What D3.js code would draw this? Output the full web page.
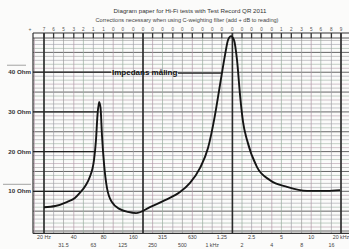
<!DOCTYPE html>
<html>
<head>
<meta charset="utf-8">
<script src="https://cdn.jsdelivr.net/npm/d3@7"></script>
<style>
  body { margin: 0; background: #fff; }
  svg { display: block; font-family: "Liberation Sans", Arial, sans-serif; }
</style>
</head>
<body>
<div id="chart"></div>
<script>
const width = 349;
const height = 249;

// impedance curve
const freqs = [20, 26, 34, 41, 46, 53, 58, 64, 67, 69.4, 72, 74.5, 77, 81, 86.6, 97, 117, 141, 170, 235,
  334, 473, 597, 754, 907, 1067, 1199, 1347, 1444, 1549, 1661, 1781, 1910, 2048, 2248, 2836, 3838,
  5698, 9076, 14452, 19558];
const ohms = [6.0, 6.3, 7.3, 8.3, 9.6, 11.6, 13.6, 17.9, 22.9, 29.2, 32.5, 31, 24.2, 16.6, 10.8, 7.3,
  5.5, 4.8, 4.5, 6.0, 7.8, 9.8, 12.1, 15.9, 20.9, 29.2, 36.8, 44.3, 48.1, 49.1, 48.1, 43.1, 34.3,
  27.5, 22.9, 16.1, 12.8, 11.1, 10.1, 10.1, 10.3];

// third octave grid of the paper and the C-weighting corrections printed on top
const thirdOctaves = [16, 20, 25, 31.5, 40, 50, 63, 80, 100, 125, 160, 200, 250, 315, 400, 500, 630,
  800, 1000, 1250, 1600, 2000, 2500, 3150, 4000, 5000, 6300, 8000, 10000, 12500, 16000, 20000];
const corrections = ['7', '6', '5', '3', '2', '1', '1', '0', '0', '0', '0', '0', '0', '0', '0', '0',
  '0', '0', '0', '0', '0', '0', '0', '0', '1', '2', '3', '5', '6', '8', '9', '12'];
const heavyLines = [20, 200, 1600, 20000];

const ohmLabels = [10, 20, 30, 40];
const freqRow1 = [[20, '20 Hz'], [40, '40'], [80, '80'], [160, '160'], [315, '315'], [630, '630'],
  [1250, '1.25'], [2500, '2.5'], [5000, '5'], [10000, '10'], [20000, '20 kHz']];
const freqRow2 = [[31.5, '31.5'], [63, '63'], [125, '125'], [250, '250'], [500, '500'], [1000, '1 kHz'],
  [2000, '2'], [4000, '4'], [8000, '8'], [16000, '16']];

const title = 'Diagram paper for Hi-Fi tests with Test Record QR 2011';
const subtitle = 'Corrections necessary when using C-weighting filter (add + dB to reading)';

const x = d3.scaleLog().domain([20, 20000]).range([44, 341]);
const y = d3.scaleLinear().domain([0, 49]).range([231, 36.5]);

const gridLeft = 33, gridRight = width, gridTop = 38, bandTop = 33, gridBottom = y(-0.6);

const svg = d3.select('#chart').append('svg')
  .attr('width', width)
  .attr('height', height);

svg.append('rect').attr('width', width).attr('height', height).attr('fill', '#fbfbfa');

// title lines
svg.append('text').attr('x', 190).attr('y', 13).attr('text-anchor', 'middle')
  .attr('font-size', 6.2).attr('fill', '#333').text(title);
svg.append('text').attr('x', 187).attr('y', 21.5).attr('text-anchor', 'middle')
  .attr('font-size', 5.6).attr('fill', '#444').text(subtitle);

// paper grid
const grid = svg.append('g');
const tints = ['#9c9c9c', '#b19aa8', '#9aae9f', '#a0a0a8'];

grid.selectAll('.h')
  .data(d3.range(0, 49))
  .join('line')
  .attr('x1', gridLeft).attr('x2', gridRight)
  .attr('y1', d => y(d)).attr('y2', d => y(d))
  .attr('stroke', (d, i) => d % 5 === 0 ? '#555' : tints[i % tints.length])
  .attr('stroke-width', d => d % 5 === 0 ? 0.9 : 0.6);

grid.selectAll('.v')
  .data(thirdOctaves)
  .join('line')
  .attr('x1', d => x(d)).attr('x2', d => x(d))
  .attr('y1', gridTop).attr('y2', gridBottom)
  .attr('stroke', (d, i) => tints[(i + 1) % tints.length])
  .attr('stroke-width', 0.7);

grid.selectAll('.dec')
  .data(heavyLines)
  .join('line')
  .attr('x1', d => x(d)).attr('x2', d => x(d))
  .attr('y1', bandTop).attr('y2', gridBottom)
  .attr('stroke', '#2a2a2a')
  .attr('stroke-width', 1.6);

// borders and top band
grid.append('line').attr('x1', gridLeft).attr('x2', gridLeft).attr('y1', bandTop).attr('y2', gridBottom)
  .attr('stroke', '#333').attr('stroke-width', 1.2);
[bandTop, gridTop, gridBottom].forEach(v => {
  grid.append('line').attr('x1', gridLeft).attr('x2', gridRight).attr('y1', v).attr('y2', v)
    .attr('stroke', '#333').attr('stroke-width', v === gridTop ? 0.8 : 1.1);
});
grid.selectAll('.tick')
  .data(thirdOctaves.slice(1))
  .join('line')
  .attr('x1', d => x(d)).attr('x2', d => x(d))
  .attr('y1', bandTop).attr('y2', gridTop)
  .attr('stroke', '#333').attr('stroke-width', 1.3);

svg.append('text').attr('x', 30).attr('y', 30.5).attr('text-anchor', 'middle')
  .attr('font-size', 5).attr('fill', '#555').text('+');
svg.selectAll('.corr')
  .data(thirdOctaves.slice(1).map((f, i) => [f, corrections[i]]))
  .join('text')
  .attr('x', d => x(d[0])).attr('y', 30.5)
  .attr('text-anchor', 'middle')
  .attr('font-size', 4.6).attr('fill', '#555')
  .text(d => d[1]);

// hand drawn ohm lines and labels
svg.selectAll('.ohm')
  .data(ohmLabels)
  .join('text')
  .attr('x', 31).attr('y', d => y(d) + 2)
  .attr('text-anchor', 'end')
  .attr('font-size', 6.2).attr('font-weight', 'bold').attr('fill', '#333')
  .text(d => d + ' Ohm');

const ohmLineEnd = { 10: 80, 20: 96, 30: 98, 40: 111 };
svg.selectAll('.ohmline')
  .data(ohmLabels)
  .join('line')
  .attr('x1', gridLeft).attr('x2', d => ohmLineEnd[d])
  .attr('y1', d => y(d)).attr('y2', d => y(d))
  .attr('stroke', '#222').attr('stroke-width', 1.2);
svg.append('line').attr('x1', 178).attr('x2', 221).attr('y1', y(40) + 1).attr('y2', y(40) + 1)
  .attr('stroke', '#222').attr('stroke-width', 1.2);
[[40, 7, 26], [10, 3, 31]].forEach(([v, a, b]) => {
  svg.append('line').attr('x1', a).attr('x2', b).attr('y1', y(v) - 7).attr('y2', y(v) - 7)
    .attr('stroke', '#666').attr('stroke-width', 0.6);
});

svg.append('text').attr('x', 112).attr('y', y(40) + 2.8)
  .attr('font-size', 8).attr('font-weight', 'bold').attr('fill', '#111')
  .text('Impedans måling');

// frequency labels
svg.selectAll('.f1')
  .data(freqRow1)
  .join('text')
  .attr('x', d => x(d[0])).attr('y', 239)
  .attr('text-anchor', 'middle')
  .attr('font-size', 5.3).attr('fill', '#444')
  .text(d => d[1]);
svg.selectAll('.f2')
  .data(freqRow2)
  .join('text')
  .attr('x', d => x(d[0])).attr('y', 246.5)
  .attr('text-anchor', 'middle')
  .attr('font-size', 5.3).attr('fill', '#444')
  .text(d => d[1]);

// the measured curve
const line = d3.line()
  .x(d => x(d[0]))
  .y(d => y(d[1]))
  .curve(d3.curveMonotoneX);

svg.append('path')
  .datum(freqs.map((f, i) => [f, ohms[i]]))
  .attr('d', line)
  .attr('fill', 'none')
  .attr('stroke', '#151515')
  .attr('stroke-width', 1.9)
  .attr('stroke-linejoin', 'round');
</script>
</body>
</html>
